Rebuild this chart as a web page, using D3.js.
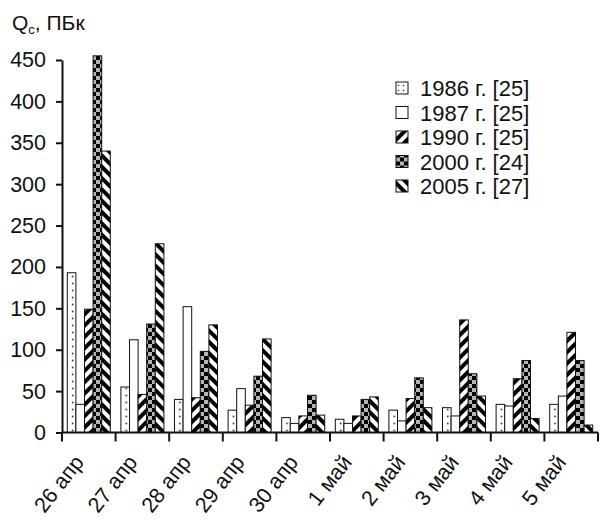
<!DOCTYPE html>
<html><head><meta charset="utf-8">
<script src="https://cdn.jsdelivr.net/npm/d3@7"></script>
<style>body{margin:0;background:#fff}svg{display:block;font-family:"Liberation Sans",Arial,sans-serif}</style>
</head><body><svg id="c" width="600" height="521"></svg>
<script>
const categories = ["26 апр","27 апр","28 апр","29 апр","30 апр","1 май","2 май","3 май","4 май","5 май"];
const seriesNames = ["1986 г. [25]","1987 г. [25]","1990 г. [25]","2000 г. [24]","2005 г. [27]"];
const v1986 = [193, 55, 40, 27, 18, 16, 27, 30, 34, 34];
const v1987 = [34, 112, 152, 53, 11, 11, 14, 20, 32, 44];
const v1990 = [149, 46, 42, 33, 20, 20, 41, 136, 65, 121];
const v2000 = [455, 131, 98, 68, 45, 40, 66, 71, 87, 87];
const v2005 = [340, 228, 130, 113, 21, 43, 30, 44, 17, 9];
const yTicks = [0,50,100,150,200,250,300,350,400,450];
const series = [v1986, v1987, v1990, v2000, v2005];

const svg = d3.select("#c");
const mLeft = 62, mRight = 598, mTop = 60, mBottom = 432.5;
const x = d3.scaleBand().domain(categories).range([mLeft, mRight]).paddingInner(0).paddingOuter(0);
const groupPad = 5.3;
const xs = d3.scaleBand().domain(d3.range(5)).range([groupPad, x.bandwidth() - groupPad]);
const y = d3.scaleLinear().domain([0, 450]).range([mBottom, mTop]);

const defs = svg.append("defs");
const p86 = defs.append("pattern").attr("id","p0").attr("patternUnits","userSpaceOnUse")
  .attr("x", mLeft).attr("y", 0).attr("width", x.step()).attr("height", 7);
p86.append("rect").attr("width", x.step()).attr("height", 7).attr("fill","#fff");
p86.append("circle").attr("cx", xs(0) + xs.bandwidth()*0.62).attr("cy", 3.5).attr("r", 0.9).attr("fill","#333");
const p90 = defs.append("pattern").attr("id","p2").attr("patternUnits","userSpaceOnUse")
  .attr("width", 8).attr("height", 8).attr("patternTransform","rotate(45)");
p90.append("rect").attr("width",8).attr("height",8).attr("fill","#fff");
p90.append("rect").attr("width",4).attr("height",8).attr("fill","#000");
const p00 = defs.append("pattern").attr("id","p3").attr("patternUnits","userSpaceOnUse")
  .attr("width", 8).attr("height", 8);
p00.append("rect").attr("width",8).attr("height",8).attr("fill","#b4b4b4");
p00.append("rect").attr("width",4).attr("height",4).attr("fill","#000");
p00.append("rect").attr("x",4).attr("y",4).attr("width",4).attr("height",4).attr("fill","#000");
const p05 = defs.append("pattern").attr("id","p4").attr("patternUnits","userSpaceOnUse")
  .attr("width", 8).attr("height", 8).attr("patternTransform","rotate(-45)");
p05.append("rect").attr("width",8).attr("height",8).attr("fill","#fff");
p05.append("rect").attr("width",4).attr("height",8).attr("fill","#000");
const pl = defs.append("pattern").attr("id","pl0").attr("patternUnits","userSpaceOnUse")
  .attr("width", 5).attr("height", 5);
pl.append("rect").attr("width",5).attr("height",5).attr("fill","#fff");
pl.append("circle").attr("cx",2.5).attr("cy",2.5).attr("r",0.8).attr("fill","#333");

const fills = ["url(#p0)", "#fff", "url(#p2)", "url(#p3)", "url(#p4)"];
const legendFills = ["url(#pl0)", "#fff", "url(#p2)", "url(#p3)", "url(#p4)"];

series.forEach((vals, si) => {
  svg.append("g").selectAll("rect").data(vals).join("rect")
    .attr("x", (d,i) => x(categories[i]) + xs(si))
    .attr("y", d => y(d))
    .attr("width", xs.bandwidth())
    .attr("height", d => mBottom - y(d))
    .attr("fill", fills[si])
    .attr("stroke", "#111").attr("stroke-width", 1);
});

const ya = svg.append("g").attr("transform", `translate(${mLeft},0)`)
  .call(d3.axisLeft(y).tickValues(yTicks).tickSize(6).tickSizeOuter(0).tickPadding(10));
ya.select(".domain").attr("stroke","#111").attr("stroke-width",2);
ya.selectAll(".tick line").attr("stroke","#111").attr("stroke-width",2);
ya.selectAll(".tick text").attr("font-size", 21.5).attr("fill","#111").attr("font-family","Liberation Sans, Arial, sans-serif");

const xa = svg.append("g").attr("transform", `translate(0,${mBottom})`);
xa.append("line").attr("x1", mLeft).attr("x2", mRight).attr("stroke","#111").attr("stroke-width",2);
const bounds = categories.map(c => x(c)).concat([mRight]);
xa.selectAll("line.t").data(bounds).join("line").attr("class","t")
  .attr("x1", d => d).attr("x2", d => d).attr("y1", 0).attr("y2", 9)
  .attr("stroke","#111").attr("stroke-width",2);
xa.selectAll("text").data(categories).join("text")
  .attr("transform", d => `translate(${x(d) + x.bandwidth()/2 - 4},${30}) rotate(-52)`)
  .attr("text-anchor","end").attr("font-size", 21.5).attr("fill","#111")
  .text(d => d);

const t = svg.append("text").attr("x", 12).attr("y", 30).attr("font-size", 21).attr("fill","#111");
t.append("tspan").text("Q");
t.append("tspan").attr("font-size", 13).attr("dy", 4).text("c");
t.append("tspan").attr("dy", -4).text(", ПБк");

const lg = svg.append("g");
const rows = lg.selectAll("g").data(seriesNames).join("g")
  .attr("transform", (d,i) => `translate(396,${88 + i*24.5})`);
rows.append("rect").attr("x",0).attr("y",-6).attr("width",12).attr("height",12)
  .attr("fill", (d,i) => legendFills[i]).attr("stroke","#111").attr("stroke-width",1);
rows.append("text").attr("x", 24).attr("y", 8).attr("font-size", 22).attr("fill","#111").text(d => d);
</script></body></html>
